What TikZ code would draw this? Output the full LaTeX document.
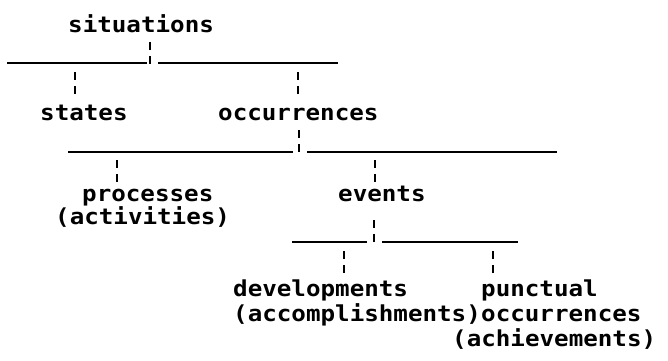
\documentclass[tikz,border=0pt]{standalone}
\usepackage{fontspec}
\newfontfamily\typefont{DejaVu Sans Mono}[FakeStretch=1.10]
\begin{document}
\begin{tikzpicture}[x=1pt,y=-1pt,
  term/.style={anchor=base west,inner sep=0pt,
    font=\typefont\bfseries\fontsize{22}{25}\selectfont},
  bar/.style={line width=2.6pt},
  tick/.style={line width=2.6pt,dash pattern=on 8pt off 6pt}]
  \fill[white] (0,0) rectangle (668,360);
  \useasboundingbox (0,0) rectangle (668,360);

  % terms
  \node[term] (sit) at (68,32) {situations};
  \node[term] (sta) at (40,120) {states};
  \node[term] (occ) at (218,120) {occurrences};
  \node[term] (pro) at (82,201) {processes};
  \node[term] (act) at (55,224) {(activities)};
  \node[term] (evt) at (338,201) {events};
  \node[term] (dev) at (233,296) {developments};
  \node[term] (acc) at (233,321) {(accomplishments)};
  \node[term] (pun) at (481,296) {punctual};
  \node[term] (poc) at (481,321) {occurrences};
  \node[term] (ach) at (452,346) {(achievements)};

  % first split: situations
  \coordinate (s0) at (150,42);
  \coordinate (s1) at (150,64);
  \coordinate (b1w) at (7,63);
  \coordinate (b1l) at (147,63);
  \coordinate (b1r) at (158,63);
  \coordinate (b1e) at (338,63);
  \coordinate (sta0) at (75,72);
  \coordinate (sta1) at (75,94);
  \coordinate (occ0) at (298,72);
  \coordinate (occ1) at (298,94);
  \draw[tick] (s0) -- (s1);
  \draw[bar] (b1w) -- (b1l);
  \draw[bar] (b1r) -- (b1e);
  \draw[tick] (sta0) -- (sta1);
  \draw[tick] (occ0) -- (occ1);

  % second split: occurrences
  \coordinate (o0) at (299,130);
  \coordinate (o1) at (299,153);
  \coordinate (b2w) at (68,152);
  \coordinate (b2l) at (293,152);
  \coordinate (b2r) at (307,152);
  \coordinate (b2e) at (557,152);
  \coordinate (pro0) at (117,160);
  \coordinate (pro1) at (117,182);
  \coordinate (evt0) at (375,160);
  \coordinate (evt1) at (375,182);
  \draw[tick] (o0) -- (o1);
  \draw[bar] (b2w) -- (b2l);
  \draw[bar] (b2r) -- (b2e);
  \draw[tick] (pro0) -- (pro1);
  \draw[tick] (evt0) -- (evt1);

  % third split: events
  \coordinate (e0) at (374,220);
  \coordinate (e1) at (374,243);
  \coordinate (b3w) at (292,242);
  \coordinate (b3l) at (367,242);
  \coordinate (b3r) at (382,242);
  \coordinate (b3e) at (518,242);
  \coordinate (dev0) at (344,251);
  \coordinate (dev1) at (344,273);
  \coordinate (pun0) at (493,251);
  \coordinate (pun1) at (493,273);
  \draw[tick] (e0) -- (e1);
  \draw[bar] (b3w) -- (b3l);
  \draw[bar] (b3r) -- (b3e);
  \draw[tick] (dev0) -- (dev1);
  \draw[tick] (pun0) -- (pun1);
\end{tikzpicture}
\end{document}
